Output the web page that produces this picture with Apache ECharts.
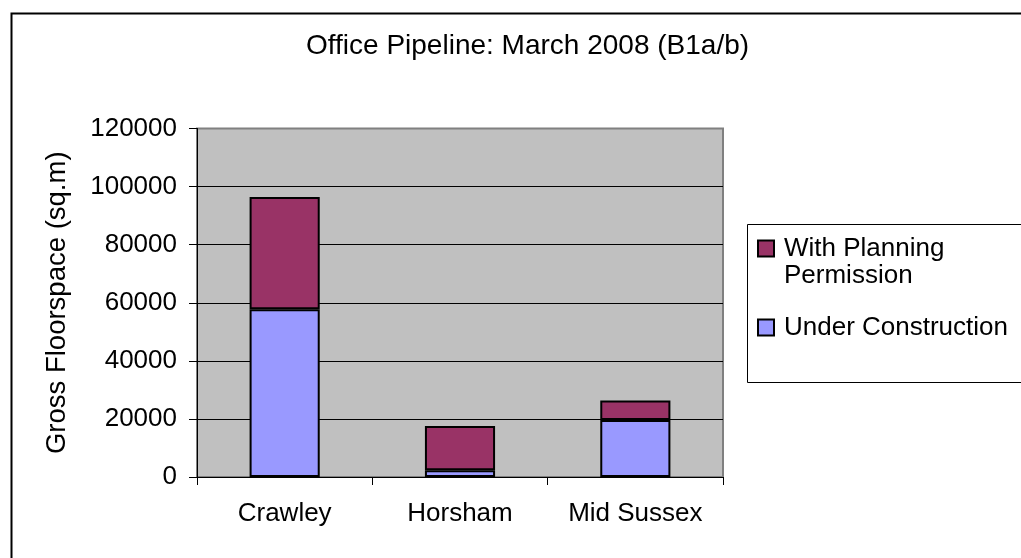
<!DOCTYPE html>
<html>
<head>
<meta charset="utf-8">
<script src="https://cdn.jsdelivr.net/npm/echarts@6/dist/echarts.min.js"></script>
<style>
  html, body { margin: 0; padding: 0; background: #ffffff; }
  #chart { width: 1021px; height: 558px; }
</style>
</head>
<body>
<div id="chart"></div>
<script>
// Office floorspace pipeline by district, square metres
const categories = ['Crawley', 'Horsham', 'Mid Sussex'];
const underConstruction = [57800, 2300, 19600];
const withPlanningPermission = [38600, 15300, 6700];
const yTickMin = 0;
const yTickMax = 120000;
const yTickStep = 20000;

const FONT = '"Liberation Sans", Arial, Helvetica, sans-serif';
const LEGEND_LINE = 27;

const chart = echarts.init(document.getElementById('chart'), null, { renderer: 'canvas' });

chart.setOption({
  animation: false,
  backgroundColor: '#ffffff',
  textStyle: { fontFamily: FONT, color: '#000000' },
  title: {
    text: 'Office Pipeline: March 2008 (B1a/b)',
    left: 306,
    top: 32,
    padding: 0,
    textStyle: { fontFamily: FONT, fontSize: 28, fontWeight: 'normal', color: '#000000' }
  },
  graphic: [
    {
      // outer chart frame, open past the right and bottom edges
      type: 'rect', silent: true, z: 0,
      shape: { x: 11.5, y: 13.5, width: 1100, height: 700 },
      style: { fill: null, stroke: '#000000', lineWidth: 2 }
    },
    {
      // legend frame
      type: 'rect', silent: true, z: 0,
      shape: { x: 747.5, y: 224.5, width: 400, height: 158 },
      style: { fill: '#ffffff', stroke: '#000000', lineWidth: 1 }
    }
  ],
  legend: {
    orient: 'vertical',
    left: 757,
    top: 208,
    padding: 0,
    itemGap: 25,
    itemWidth: 16,
    itemHeight: 16,
    icon: 'rect',
    z: 5,
    data: ['With Planning Permission', 'Under Construction'],
    formatter: function (name) {
      // leading blank line keeps the swatch level with the first text line
      return name === 'With Planning Permission' ? '\nWith Planning\nPermission' : name;
    },
    textStyle: { fontFamily: FONT, fontSize: 26, lineHeight: LEGEND_LINE, color: '#000000', padding: [0, 0, 0, 5] }
  },
  grid: {
    left: 197,
    right: 298,
    top: 128.5,
    bottom: 81,
    show: true,
    backgroundColor: '#C0C0C0',
    borderColor: '#808080',
    borderWidth: 2,
    containLabel: false,
    outerBoundsMode: 'none'
  },
  xAxis: {
    type: 'category',
    data: categories,
    boundaryGap: true,
    axisLine: { show: true, lineStyle: { color: '#000000', width: 1 } },
    axisTick: { show: true, alignWithLabel: false, length: 8, lineStyle: { color: '#000000', width: 1 } },
    axisLabel: { fontFamily: FONT, fontSize: 26, color: '#000000', margin: 24 },
    splitLine: { show: false }
  },
  yAxis: {
    type: 'value',
    min: yTickMin,
    max: yTickMax,
    interval: yTickStep,
    name: 'Gross Floorspace (sq.m)',
    nameLocation: 'middle',
    nameGap: 126,
    nameTextStyle: { fontFamily: FONT, fontSize: 27.5, color: '#000000' },
    axisLine: { show: true, lineStyle: { color: '#000000', width: 1 } },
    axisTick: { show: true, length: 8, lineStyle: { color: '#000000', width: 1 } },
    axisLabel: {
      fontFamily: FONT, fontSize: 26, color: '#000000', margin: 20,
      formatter: function (v) { return String(v); }
    },
    splitLine: {
      show: true,
      lineStyle: { color: ['#000000', '#000000', '#000000', '#000000', '#000000', '#000000', '#808080'], width: 1 }
    }
  },
  series: [
    {
      name: 'Under Construction',
      type: 'bar',
      stack: 'pipeline',
      barWidth: '40%',
      data: underConstruction,
      itemStyle: { color: '#9999FF', borderColor: '#000000', borderWidth: 2 },
      emphasis: { disabled: true }
    },
    {
      name: 'With Planning Permission',
      type: 'bar',
      stack: 'pipeline',
      barWidth: '40%',
      data: withPlanningPermission,
      itemStyle: { color: '#993366', borderColor: '#000000', borderWidth: 2 },
      emphasis: { disabled: true }
    }
  ]
});
</script>
</body>
</html>
